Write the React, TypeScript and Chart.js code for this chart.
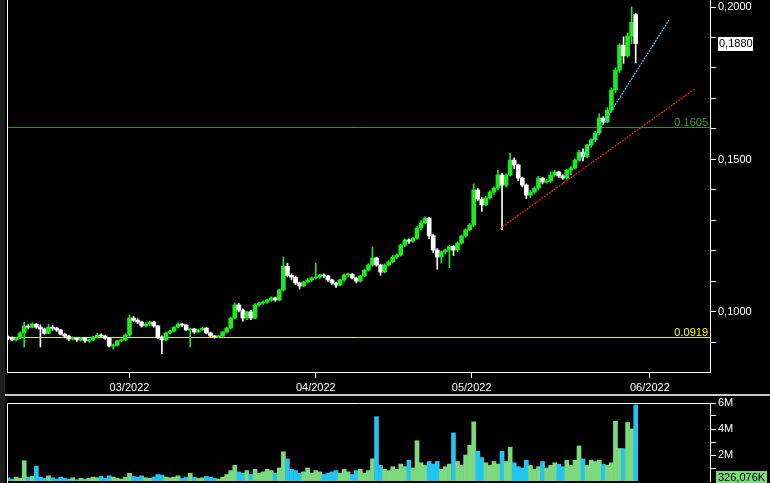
import React, { useEffect, useRef } from 'react';
import { Chart, registerables } from 'chart.js';

Chart.register(...registerables);

const FONT = '"Liberation Sans", Arial, sans-serif';

// ---- candle data (2 bars per trading day) ----
const opens = [
  0.0918, 0.0914, 0.0908, 0.0914, 0.0931, 0.0954, 0.0950, 0.0960, 0.0950, 0.0944,
  0.0930, 0.0950, 0.0947, 0.0941, 0.0927, 0.0921, 0.0911, 0.0914, 0.0908, 0.0914,
  0.0905, 0.0908, 0.0918, 0.0924, 0.0921, 0.0914, 0.0888, 0.0891, 0.0905, 0.0908,
  0.0924, 0.0980, 0.0973, 0.0967, 0.0954, 0.0960, 0.0967, 0.0954, 0.0918, 0.0908,
  0.0931, 0.0937, 0.0950, 0.0960, 0.0957, 0.0941, 0.0944, 0.0934, 0.0941, 0.0947,
  0.0931, 0.0921, 0.0918, 0.0921, 0.0934, 0.0947, 0.0980, 0.1023, 0.1006, 0.0980,
  0.1000, 0.0980, 0.1023, 0.1029, 0.1032, 0.1039, 0.1046, 0.1039, 0.1072, 0.1150,
  0.1120, 0.1114, 0.1095, 0.1085, 0.1098, 0.1105, 0.1111, 0.1114, 0.1121, 0.1118,
  0.1105, 0.1095, 0.1088, 0.1105, 0.1121, 0.1124, 0.1111, 0.1101, 0.1118, 0.1137,
  0.1154, 0.1177, 0.1154, 0.1131, 0.1154, 0.1164, 0.1180, 0.1187, 0.1219, 0.1236,
  0.1232, 0.1242, 0.1275, 0.1292, 0.1308, 0.1250, 0.1203, 0.1180, 0.1197, 0.1203,
  0.1215, 0.1203, 0.1226, 0.1249, 0.1269, 0.1285, 0.1400, 0.1370, 0.1351, 0.1374,
  0.1393, 0.1406, 0.1449, 0.1416, 0.1449, 0.1498, 0.1482, 0.1439, 0.1416, 0.1383,
  0.1393, 0.1406, 0.1439, 0.1426, 0.1429, 0.1449, 0.1459, 0.1446, 0.1439, 0.1465,
  0.1472, 0.1498, 0.1524, 0.1510, 0.1547, 0.1564, 0.1587, 0.1636, 0.1623, 0.1662,
  0.1728, 0.1793, 0.1875, 0.1840, 0.1905, 0.1975,
];
const highs = [
  0.0922, 0.0918, 0.0917, 0.0935, 0.0966, 0.0958, 0.0965, 0.0962, 0.0958, 0.0947,
  0.0960, 0.0955, 0.0950, 0.0943, 0.0930, 0.0924, 0.0918, 0.0916, 0.0917, 0.0915,
  0.0912, 0.0920, 0.0930, 0.0928, 0.0923, 0.0916, 0.0895, 0.0907, 0.0912, 0.0928,
  0.0990, 0.0985, 0.0978, 0.0970, 0.0965, 0.0970, 0.0970, 0.0956, 0.0922, 0.0934,
  0.0940, 0.0952, 0.0964, 0.0963, 0.0959, 0.0947, 0.0946, 0.0944, 0.0950, 0.0949,
  0.0934, 0.0924, 0.0923, 0.0936, 0.0950, 0.0983, 0.1030, 0.1028, 0.1010, 0.1003,
  0.1005, 0.1027, 0.1032, 0.1036, 0.1042, 0.1050, 0.1049, 0.1075, 0.1180, 0.1160,
  0.1125, 0.1118, 0.1098, 0.1101, 0.1110, 0.1115, 0.1160, 0.1124, 0.1125, 0.1120,
  0.1108, 0.1098, 0.1108, 0.1125, 0.1128, 0.1126, 0.1114, 0.1120, 0.1140, 0.1158,
  0.1213, 0.1180, 0.1157, 0.1158, 0.1168, 0.1185, 0.1190, 0.1222, 0.1240, 0.1240,
  0.1245, 0.1280, 0.1300, 0.1312, 0.1310, 0.1255, 0.1208, 0.1200, 0.1206, 0.1218,
  0.1218, 0.1230, 0.1252, 0.1272, 0.1290, 0.1420, 0.1405, 0.1375, 0.1378, 0.1398,
  0.1410, 0.1465, 0.1455, 0.1452, 0.1520, 0.1505, 0.1485, 0.1442, 0.1420, 0.1398,
  0.1410, 0.1445, 0.1442, 0.1435, 0.1460, 0.1465, 0.1462, 0.1450, 0.1468, 0.1478,
  0.1502, 0.1530, 0.1535, 0.1550, 0.1568, 0.1592, 0.1650, 0.1640, 0.1670, 0.1735,
  0.1800, 0.1880, 0.1902, 0.1915, 0.2000, 0.1980,
];
const lows = [
  0.0908, 0.0905, 0.0905, 0.0912, 0.0885, 0.0944, 0.0948, 0.0946, 0.0885, 0.0927,
  0.0928, 0.0940, 0.0936, 0.0924, 0.0915, 0.0905, 0.0908, 0.0903, 0.0905, 0.0900,
  0.0900, 0.0906, 0.0915, 0.0917, 0.0910, 0.0885, 0.0878, 0.0888, 0.0902, 0.0905,
  0.0920, 0.0968, 0.0962, 0.0950, 0.0950, 0.0955, 0.0950, 0.0912, 0.0862, 0.0905,
  0.0928, 0.0934, 0.0947, 0.0952, 0.0938, 0.0885, 0.0930, 0.0931, 0.0938, 0.0928,
  0.0918, 0.0914, 0.0915, 0.0918, 0.0930, 0.0944, 0.0977, 0.1000, 0.0970, 0.0975,
  0.0975, 0.0978, 0.1018, 0.1025, 0.1028, 0.1035, 0.1035, 0.1036, 0.1068, 0.1115,
  0.1105, 0.1090, 0.1075, 0.1082, 0.1095, 0.1100, 0.1108, 0.1110, 0.1112, 0.1100,
  0.1090, 0.1080, 0.1085, 0.1100, 0.1115, 0.1108, 0.1095, 0.1098, 0.1115, 0.1134,
  0.1150, 0.1150, 0.1120, 0.1128, 0.1150, 0.1160, 0.1175, 0.1183, 0.1215, 0.1225,
  0.1228, 0.1238, 0.1270, 0.1288, 0.1240, 0.1195, 0.1140, 0.1160, 0.1190, 0.1145,
  0.1185, 0.1198, 0.1222, 0.1245, 0.1265, 0.1280, 0.1365, 0.1330, 0.1348, 0.1370,
  0.1385, 0.1400, 0.1270, 0.1410, 0.1445, 0.1470, 0.1430, 0.1410, 0.1372, 0.1375,
  0.1388, 0.1400, 0.1420, 0.1422, 0.1425, 0.1445, 0.1440, 0.1435, 0.1435, 0.1450,
  0.1468, 0.1494, 0.1495, 0.1505, 0.1540, 0.1558, 0.1580, 0.1615, 0.1620, 0.1655,
  0.1720, 0.1785, 0.1815, 0.1835, 0.1880, 0.1817,
];
const closes = [
  0.0914, 0.0908, 0.0914, 0.0931, 0.0954, 0.0950, 0.0960, 0.0950, 0.0944, 0.0930,
  0.0950, 0.0947, 0.0941, 0.0927, 0.0921, 0.0911, 0.0914, 0.0908, 0.0914, 0.0905,
  0.0908, 0.0918, 0.0924, 0.0921, 0.0914, 0.0888, 0.0891, 0.0905, 0.0908, 0.0924,
  0.0980, 0.0973, 0.0967, 0.0954, 0.0960, 0.0967, 0.0954, 0.0918, 0.0908, 0.0931,
  0.0937, 0.0950, 0.0960, 0.0957, 0.0941, 0.0944, 0.0934, 0.0941, 0.0947, 0.0931,
  0.0921, 0.0918, 0.0921, 0.0934, 0.0947, 0.0980, 0.1023, 0.1006, 0.0980, 0.1000,
  0.0980, 0.1023, 0.1029, 0.1032, 0.1039, 0.1046, 0.1039, 0.1072, 0.1150, 0.1120,
  0.1114, 0.1095, 0.1085, 0.1098, 0.1105, 0.1111, 0.1114, 0.1121, 0.1118, 0.1105,
  0.1095, 0.1088, 0.1105, 0.1121, 0.1124, 0.1111, 0.1101, 0.1118, 0.1137, 0.1154,
  0.1177, 0.1154, 0.1131, 0.1154, 0.1164, 0.1180, 0.1187, 0.1219, 0.1236, 0.1232,
  0.1242, 0.1275, 0.1292, 0.1308, 0.1250, 0.1203, 0.1180, 0.1197, 0.1203, 0.1215,
  0.1203, 0.1226, 0.1249, 0.1269, 0.1285, 0.1400, 0.1370, 0.1351, 0.1374, 0.1393,
  0.1406, 0.1449, 0.1416, 0.1449, 0.1498, 0.1482, 0.1439, 0.1416, 0.1383, 0.1393,
  0.1406, 0.1439, 0.1426, 0.1429, 0.1449, 0.1459, 0.1446, 0.1439, 0.1465, 0.1472,
  0.1498, 0.1524, 0.1510, 0.1547, 0.1564, 0.1587, 0.1636, 0.1623, 0.1662, 0.1728,
  0.1793, 0.1875, 0.1840, 0.1905, 0.1950, 0.1880,
];
// volume in millions
const volumes = [
  0.25, 0.15, 0.3, 0.2, 1.56, 0.3, 0.35, 1.15, 0.3, 0.2,
  0.4, 0.25, 0.15, 0.3, 0.2, 0.15, 0.25, 0.1, 0.2, 0.15,
  0.2, 0.3, 0.25, 0.35, 0.2, 0.4, 0.3, 0.2, 0.15, 0.3,
  0.6, 0.35, 0.3, 0.4, 0.25, 0.2, 0.3, 0.5, 0.45, 0.3,
  0.25, 0.3, 0.4, 0.2, 0.3, 0.6, 0.3, 0.2, 0.25, 0.35,
  0.3, 0.2, 0.15, 0.3, 0.5, 0.8, 1.2, 0.7, 0.6, 0.8,
  0.5, 0.9, 0.6, 0.7, 0.9, 0.8, 0.6, 1.0, 2.25, 1.7,
  0.9, 0.8, 0.6, 0.7, 1.0, 0.6, 0.8, 0.7, 0.5, 0.6,
  0.7, 0.8, 0.6, 0.9, 0.7, 0.5, 0.8, 0.9, 0.6, 0.8,
  1.7, 4.95, 1.2, 0.9, 0.8, 1.1, 0.9, 1.3, 1.1, 1.6,
  1.0, 3.1, 1.4, 1.2, 1.5, 1.3, 1.5, 0.9, 1.1, 1.3,
  3.7, 1.5, 1.2, 2.0, 2.75, 4.55, 2.3, 1.8, 1.4, 1.2,
  1.5, 1.3, 2.3, 1.5, 2.6, 1.4, 1.1, 1.0, 1.6, 1.2,
  0.9, 1.1, 1.5, 1.0, 1.2, 1.4, 1.3, 1.1, 1.6, 1.2,
  1.6, 2.7, 1.7, 1.2, 1.6, 1.5, 1.6, 1.3, 1.2, 1.4,
  4.6, 2.5, 2.5, 4.5, 4.0, 5.85,
];

const monthLabels = ['03/2022', '04/2022', '05/2022', '06/2022'];
const monthTickIndex = [30, 76, 114.5, 158.5];

const priceTicks = [0.09, 0.10, 0.11, 0.12, 0.13, 0.14, 0.15, 0.16, 0.17, 0.18, 0.19, 0.20];
const priceLabelled = [0.10, 0.15, 0.20];
const volumeTicks = [1, 2, 3, 4, 5, 6];
const volumeLabelled = [2, 4, 6];

const levelValues = [0.1605, 0.0919];
const levelLineColors = ['#2f8f2f', '#f0f000'];
const levelTextColors = ['#3c963c', '#ffff00'];

const cyanTrendX = [141.2, 163.2];
const cyanTrendY = [0.1496, 0.1957];
const redTrendX = [121.5, 169.6];
const redTrendY = [0.1274, 0.1731];

const lastVolumeLabel = '326,076K';
const lastVolumeValue = 0.326;

const X_MIN = -0.25;
const X_MAX = 173.35;
const Y_MIN = 0.0803;
const Y_MAX = 0.2023;

const UP = '#1ee81e';
const DOWN = '#ffffff';
const VOL_UP = '#7ed97e';
const VOL_DOWN = '#22c4f2';

const fmtPrice = (v: number) => v.toFixed(4).replace('.', ',');
const near = (a: number, list: number[]) => list.some((b) => Math.abs(a - b) < 1e-7);

export default function App() {
  const priceRef = useRef<HTMLCanvasElement>(null);
  const volRef = useRef<HTMLCanvasElement>(null);

  useEffect(() => {
    const up = closes.map((c, i) => c >= opens[i]);
    const wicks = closes.map((_, i) => ({ x: i, y: [lows[i], highs[i]] }));
    const bodies = closes.map((c, i) => ({ x: i, y: [Math.min(opens[i], c), Math.max(opens[i], c)] }));
    const candleColors = up.map((u) => (u ? UP : DOWN));
    const volColors = up.map((u) => (u ? VOL_UP : VOL_DOWN));
    const lastPrice = closes[closes.length - 1];

    const mainDecor = {
      id: 'mainDecor',
      beforeDatasetsDraw(chart: any) {
        const { ctx, chartArea: a, scales } = chart;
        const y = scales.y;
        ctx.save();
        levelValues.forEach((lv, k) => {
          const py = Math.round(y.getPixelForValue(lv)) + 0.5;
          ctx.strokeStyle = levelLineColors[k];
          ctx.lineWidth = 1;
          ctx.beginPath();
          ctx.moveTo(a.left, py);
          ctx.lineTo(a.right, py);
          ctx.stroke();
          ctx.fillStyle = levelTextColors[k];
          ctx.font = `11px ${FONT}`;
          ctx.textAlign = 'right';
          ctx.textBaseline = 'alphabetic';
          ctx.fillText(lv.toFixed(4), a.right - 2, py - 1.5);
        });
        ctx.restore();
      },
      afterDraw(chart: any) {
        const { ctx, chartArea: a, scales } = chart;
        const y = scales.y;
        ctx.save();
        ctx.strokeStyle = '#ffffff';
        ctx.lineWidth = 1;
        ctx.beginPath();
        ctx.moveTo(a.left + 0.5, a.top);
        ctx.lineTo(a.left + 0.5, a.bottom);
        ctx.stroke();
        const py = y.getPixelForValue(lastPrice);
        ctx.fillStyle = '#ffffff';
        ctx.fillRect(a.right + 8, Math.round(py) - 7, 35, 14);
        ctx.fillStyle = '#000000';
        ctx.font = `11px ${FONT}`;
        ctx.textAlign = 'left';
        ctx.textBaseline = 'middle';
        ctx.fillText(fmtPrice(lastPrice), a.right + 9, Math.round(py));
        ctx.restore();
      },
    };

    const volDecor = {
      id: 'volDecor',
      afterDraw(chart: any) {
        const { ctx, chartArea: a, scales } = chart;
        const y = scales.y;
        ctx.save();
        ctx.strokeStyle = '#ffffff';
        ctx.lineWidth = 1;
        ctx.beginPath();
        ctx.moveTo(a.left + 0.5, chart.height);
        ctx.lineTo(a.left + 0.5, a.top + 0.5);
        ctx.lineTo(a.right, a.top + 0.5);
        ctx.stroke();
        const py = y.getPixelForValue(lastVolumeValue);
        ctx.fillStyle = VOL_UP;
        ctx.fillRect(a.right + 6, Math.round(py) - 6, 51, 14);
        ctx.fillStyle = '#000000';
        ctx.font = `11px ${FONT}`;
        ctx.textAlign = 'left';
        ctx.textBaseline = 'middle';
        ctx.fillText(lastVolumeLabel, a.right + 8, Math.round(py) + 1);
        ctx.restore();
      },
    };

    const xScale = (display: boolean) => ({
      type: 'linear',
      min: X_MIN,
      max: X_MAX,
      offset: false,
      display,
      grid: { display: true, drawOnChartArea: false, drawTicks: true, tickLength: 6, color: '#ffffff', offset: false },
      border: { display: true, color: '#ffffff' },
      ticks: {
        color: '#ffffff',
        font: { family: FONT, size: 11 },
        padding: 3,
        maxRotation: 0,
        autoSkip: false,
        callback: (v: number) => {
          const k = monthTickIndex.indexOf(v);
          return k >= 0 ? monthLabels[k] : '';
        },
      },
      afterBuildTicks: (s: any) => {
        s.ticks = monthTickIndex.map((v) => ({ value: v }));
      },
      afterFit: (s: any) => {
        if (display) s.height = 22;
        s.paddingLeft = 0;
        s.paddingRight = 0;
      },
    });

    const priceChart = new Chart(priceRef.current as HTMLCanvasElement, {
      type: 'bar',
      data: {
        datasets: [
          {
            type: 'line',
            data: cyanTrendX.map((x, i) => ({ x, y: cyanTrendY[i] })),
            borderColor: '#3cd0f0',
            borderWidth: 1.2,
            borderDash: [2, 1],
            pointRadius: 0,
            order: 0,
          } as any,
          {
            type: 'line',
            data: redTrendX.map((x, i) => ({ x, y: redTrendY[i] })),
            borderColor: '#f02020',
            borderWidth: 1.2,
            borderDash: [2, 1],
            pointRadius: 0,
            order: 0,
          } as any,
          {
            data: wicks as any,
            backgroundColor: candleColors,
            barThickness: 1,
            grouped: false,
            order: 2,
          } as any,
          {
            data: bodies as any,
            backgroundColor: candleColors,
            barThickness: 4,
            minBarLength: 1,
            grouped: false,
            order: 1,
          } as any,
        ],
      },
      options: {
        responsive: false,
        animation: false,
        events: [],
        layout: { padding: { left: 7, top: 0, right: 0, bottom: 0 }, autoPadding: false },
        plugins: { legend: { display: false }, tooltip: { enabled: false } },
        scales: {
          x: xScale(true) as any,
          y: {
            type: 'linear',
            position: 'right',
            min: Y_MIN,
            max: Y_MAX,
            grid: { drawOnChartArea: false, tickLength: 6, color: '#ffffff' },
            border: { display: true, color: '#ffffff' },
            ticks: {
              color: '#ffffff',
              font: { family: FONT, size: 11 },
              padding: 2,
              autoSkip: false,
              callback: (v: number) => (near(v, priceLabelled) ? fmtPrice(v) : ''),
            },
            afterBuildTicks: (s: any) => {
              s.ticks = priceTicks.map((v) => ({ value: v }));
            },
            afterFit: (s: any) => {
              s.width = 60;
              s.paddingTop = 0;
              s.paddingBottom = 0;
            },
          } as any,
        },
      },
      plugins: [mainDecor],
    });

    const volChart = new Chart(volRef.current as HTMLCanvasElement, {
      type: 'bar',
      data: {
        datasets: [
          {
            data: volumes.map((v, i) => ({ x: i, y: v })) as any,
            backgroundColor: volColors,
            barThickness: 4,
            grouped: false,
          } as any,
        ],
      },
      options: {
        responsive: false,
        animation: false,
        events: [],
        layout: { padding: { left: 7, top: 7, right: 0, bottom: 15 }, autoPadding: false },
        plugins: { legend: { display: false }, tooltip: { enabled: false } },
        scales: {
          x: xScale(false) as any,
          y: {
            type: 'linear',
            position: 'right',
            min: 0,
            max: 6,
            grid: { drawOnChartArea: false, tickLength: 6, color: '#ffffff' },
            border: { display: true, color: '#ffffff' },
            ticks: {
              color: '#ffffff',
              font: { family: FONT, size: 11 },
              padding: 2,
              autoSkip: false,
              callback: (v: number) => (near(v, volumeLabelled) ? `${v}M` : ''),
            },
            afterBuildTicks: (s: any) => {
              s.ticks = volumeTicks.map((v) => ({ value: v }));
            },
            afterFit: (s: any) => {
              s.width = 60;
              s.paddingTop = 0;
              s.paddingBottom = 0;
            },
          } as any,
        },
      },
      plugins: [volDecor],
    });

    return () => {
      priceChart.destroy();
      volChart.destroy();
    };
  }, []);

  return (
    <div style={{ position: 'fixed', left: 0, top: 0, width: 770, height: 483, overflow: 'hidden', background: '#000' }}>
      <canvas ref={priceRef} width={770} height={394} style={{ position: 'absolute', left: 0, top: 0 }} />
      <div style={{ position: 'absolute', left: 5, top: 394, width: 765, height: 2, background: '#c8c8c8' }} />
      <canvas ref={volRef} width={770} height={100} style={{ position: 'absolute', left: 0, top: 396 }} />
      <div style={{ position: 'absolute', left: 0, top: 0, width: 5, height: 483, background: '#1e1e1e' }} />
    </div>
  );
}
